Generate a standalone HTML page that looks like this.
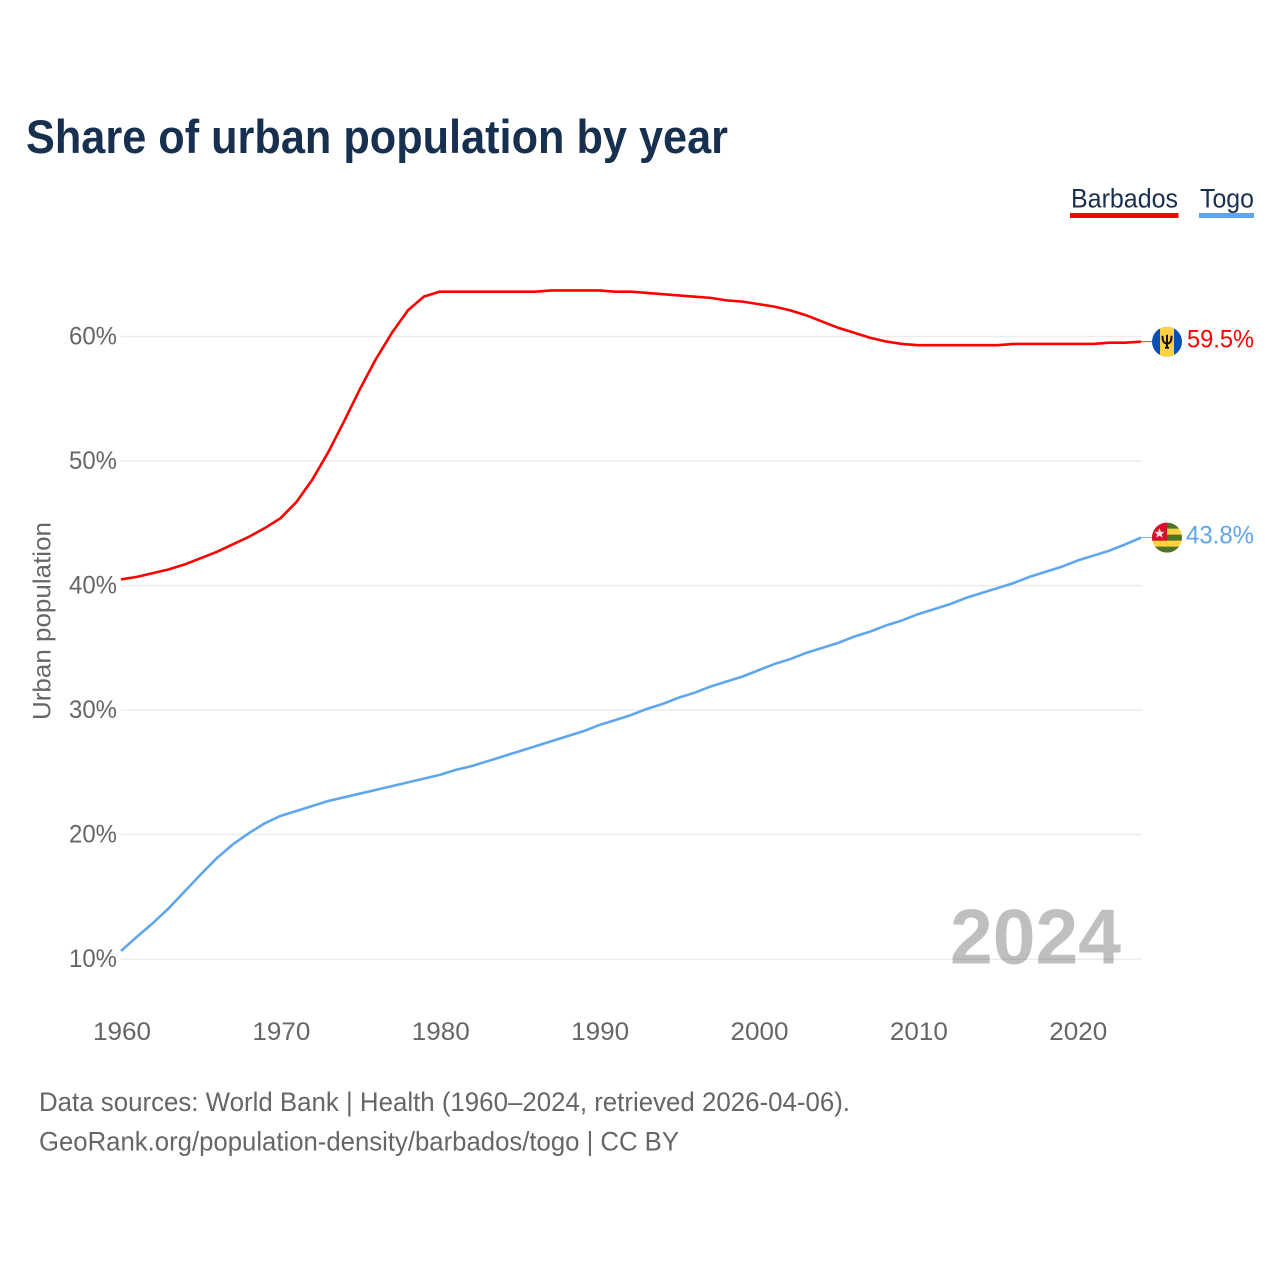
<!DOCTYPE html>
<html lang="en">
<head>
<meta charset="utf-8">
<title>Share of urban population by year</title>
<style>
html,body{margin:0;padding:0;background:#fff;}
svg{display:block;font-family:"Liberation Sans",sans-serif;}
</style>
</head>
<body>
<svg id="chart" xmlns="http://www.w3.org/2000/svg" width="1280" height="1280" viewBox="0 0 1280 1280">
<rect x="0" y="0" width="1280" height="1280" fill="#fff"/>
<defs>
<clipPath id="flag-clip-circle"><circle cx="0" cy="0" r="15"/></clipPath>
</defs>
<text x="26" y="153" font-size="47" font-weight="700" fill="#17304f" textLength="702" lengthAdjust="spacingAndGlyphs">Share of urban population by year</text>
<g>
<g>
<text x="1071" y="207.500" font-size="27" fill="#17304f" textLength="107" lengthAdjust="spacingAndGlyphs">Barbados</text>
<rect x="1070" y="213" width="108.500" height="5" fill="#ff0000"/>
</g>
<g>
<text x="1200" y="207.500" font-size="27" fill="#17304f" textLength="54" lengthAdjust="spacingAndGlyphs">Togo</text>
<rect x="1199" y="213" width="55" height="5" fill="#5fa6ee"/>
</g>
</g>
<text transform="translate(50.500,621) rotate(-90)" text-anchor="middle" font-size="25" fill="#666" textLength="198" lengthAdjust="spacingAndGlyphs">Urban population</text>
<g id="grid"></g>
<g id="yticks"></g>
<g id="xticks"></g>
<g id="lines"></g>
<text x="950" y="963.500" font-size="78" font-weight="700" fill="#000" fill-opacity="0.25" textLength="171" lengthAdjust="spacingAndGlyphs">2024</text>
<g id="ends"></g>
<text x="39" y="1111" font-size="27" fill="#666" textLength="811" lengthAdjust="spacingAndGlyphs">Data sources: World Bank | Health (1960–2024, retrieved 2026-04-06).</text>
<text x="39" y="1150.500" font-size="27" fill="#666" textLength="640" lengthAdjust="spacingAndGlyphs">GeoRank.org/population-density/barbados/togo | CC BY</text>
</svg>
<script>
const firstYear = 1960;
const barbadosValues = [40.5,40.7,41.0,41.3,41.7,42.2,42.7,43.3,43.9,44.6,45.4,46.7,48.5,50.7,53.2,55.8,58.2,60.3,62.1,63.2,63.6,63.6,63.6,63.6,63.6,63.6,63.6,63.7,63.7,63.7,63.7,63.6,63.6,63.5,63.4,63.3,63.2,63.1,62.9,62.8,62.6,62.4,62.1,61.7,61.2,60.7,60.3,59.9,59.6,59.4,59.3,59.3,59.3,59.3,59.3,59.3,59.4,59.4,59.4,59.4,59.4,59.4,59.5,59.5,59.58];
const togoValues = [10.66,11.8,12.9,14.1,15.45,16.8,18.1,19.2,20.1,20.9,21.5,21.9,22.3,22.7,23.0,23.3,23.6,23.9,24.2,24.5,24.8,25.2,25.5,25.9,26.3,26.7,27.1,27.5,27.9,28.3,28.8,29.2,29.6,30.1,30.5,31.0,31.4,31.9,32.3,32.7,33.2,33.7,34.1,34.6,35.0,35.4,35.9,36.3,36.8,37.2,37.7,38.1,38.5,39.0,39.4,39.8,40.2,40.7,41.1,41.5,42.0,42.4,42.8,43.3,43.85];
const yTickValues = [10,20,30,40,50,60];
const xTickValues = [1960,1970,1980,1990,2000,2010,2020];
const barbadosLabel = "59.5%";
const togoLabel = "43.8%";

const NS = "http://www.w3.org/2000/svg";
function xScale(year){ return 121 + (year - 1960) * (1020 / 64); }
function yScale(v){ return 959.2 - (v - 10) * (622.7 / 50); }
function make(tag, attrs, parent){
  const el = document.createElementNS(NS, tag);
  for (const k in attrs) el.setAttribute(k, attrs[k]);
  parent.appendChild(el);
  return el;
}
const grid = document.getElementById('grid');
const yticks = document.getElementById('yticks');
const xticks = document.getElementById('xticks');
const lines = document.getElementById('lines');
const ends = document.getElementById('ends');

yTickValues.forEach(function(v){
  const g = make('line', {x1:121, x2:1141.500, y1:yScale(v), y2:yScale(v), stroke:'#ececec', 'stroke-width':1.5}, grid);
  
  
  const t = make('text', {x:69, y:yScale(v)+7.8, 'font-size':25, fill:'#666', textLength:48, lengthAdjust:'spacingAndGlyphs'}, yticks);
  t.textContent = v + '%';
  
  
});
xTickValues.forEach(function(y){
  const t = make('text', {x:xScale(y)-28, y:1040, 'font-size':25, fill:'#666', textLength:58, lengthAdjust:'spacingAndGlyphs'}, xticks);
  t.textContent = y;
  
  
});
function linePoints(values){
  return values.map(function(v,i){ return xScale(firstYear+i).toFixed(2)+','+yScale(v).toFixed(2); }).join(' ');
}
const lineB = make('polyline', {points:linePoints(barbadosValues), fill:'none', stroke:'#ff0000', 'stroke-width':2.6, 'stroke-linejoin':'round'}, lines);


const lineT = make('polyline', {points:linePoints(togoValues), fill:'none', stroke:'#5fa6ee', 'stroke-width':2.6, 'stroke-linejoin':'round'}, lines);



const lastB = yScale(barbadosValues[barbadosValues.length-1]);
const lastT = yScale(togoValues[togoValues.length-1]);

const connB = make('line', {x1:1141, x2:1155, y1:lastB, y2:lastB, stroke:'#ff0000', 'stroke-width':0.8}, ends);


const connT = make('line', {x1:1141, x2:1155, y1:lastT, y2:lastT, stroke:'#5fa6ee', 'stroke-width':0.8}, ends);



const flagB = make('g', {transform:'translate(1167,'+lastB.toFixed(2)+')', 'clip-path':'url(#flag-clip-circle)'}, ends);


make('rect', {x:-15,y:-15,width:30,height:30,fill:'#0a50b4'}, flagB);
make('rect', {x:-7,y:-15,width:14,height:30,fill:'#ffd23f'}, flagB);
make('path', {d:'M0,-7V6M-4.500,-6C-4.500,-1 -3.500,1.500 0,2C3.500,1.500 4.500,-1 4.500,-6M-2,6H2', fill:'none', stroke:'#111', 'stroke-width':2}, flagB);

const flagT = make('g', {transform:'translate(1167,'+lastT.toFixed(2)+')', 'clip-path':'url(#flag-clip-circle)'}, ends);


make('rect', {x:-15,y:-15,width:30,height:30,fill:'#ffd23f'}, flagT);
make('rect', {x:-15,y:-15,width:30,height:6,fill:'#4f7326'}, flagT);
make('rect', {x:-15,y:-3,width:30,height:6,fill:'#4f7326'}, flagT);
make('rect', {x:-15,y:9,width:30,height:6,fill:'#4f7326'}, flagT);
make('rect', {x:-15,y:-15,width:15,height:18,fill:'#d80f31'}, flagT);
make('polygon', {points:'-7.500,-9.500 -6,-5.800 -2.500,-5.800 -5.300,-3.400 -4.300,0 -7.500,-2 -10.700,0 -9.700,-3.400 -12.500,-5.800 -9,-5.800', fill:'#f4e6e6'}, flagT);

const valB = make('text', {x:1187, y:lastB+6, 'font-size':25, fill:'#ff0000', textLength:67, lengthAdjust:'spacingAndGlyphs'}, ends);
valB.textContent = barbadosLabel;


const valT = make('text', {x:1186, y:lastT+6, 'font-size':25, fill:'#5fa6ee', textLength:68, lengthAdjust:'spacingAndGlyphs'}, ends);
valT.textContent = togoLabel;


</script>
</body>
</html>
